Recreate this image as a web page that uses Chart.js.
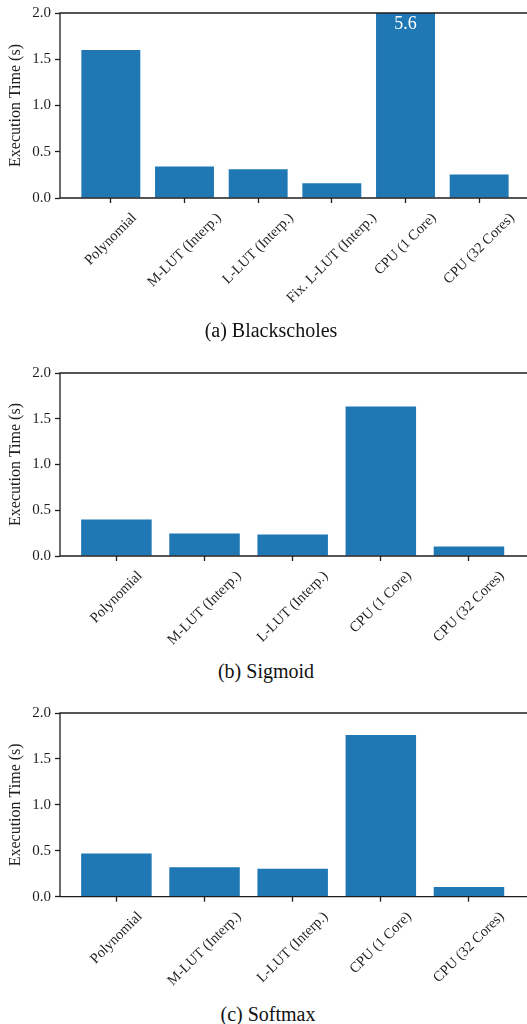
<!DOCTYPE html>
<html>
<head>
<meta charset="utf-8">
<script src="https://cdn.jsdelivr.net/npm/chart.js@4/dist/chart.umd.min.js"></script>
<style>
  html, body { margin: 0; padding: 0; background: #fff; overflow: hidden; width: 527px; height: 1024px; }
  .panel { position: absolute; left: 0; }
  .caption {
    position: absolute;
    font-family: "Liberation Serif", serif;
    font-size: 20px;
    line-height: 20px;
    color: #111;
    white-space: nowrap;
    transform: translateX(-50%);
  }
</style>
</head>
<body>
<canvas id="chartA" class="panel" width="540" height="320" style="top:0px"></canvas>
<div class="caption" style="left:271px; top:320px">(a) Blackscholes</div>

<canvas id="chartB" class="panel" width="540" height="300" style="top:360px"></canvas>
<div class="caption" style="left:266px; top:661px">(b) Sigmoid</div>

<canvas id="chartC" class="panel" width="540" height="300" style="top:700px"></canvas>
<div class="caption" style="left:268px; top:1004px">(c) Softmax</div>

<script>
// Execution time (seconds) per implementation
const blackscholesLabels = ['Polynomial', 'M-LUT (Interp.)', 'L-LUT (Interp.)', 'Fix. L-LUT (Interp.)', 'CPU (1 Core)', 'CPU (32 Cores)'];
const blackscholesTimes  = [1.60, 0.34, 0.31, 0.16, 5.6, 0.255];

const sigmoidLabels = ['Polynomial', 'M-LUT (Interp.)', 'L-LUT (Interp.)', 'CPU (1 Core)', 'CPU (32 Cores)'];
const sigmoidTimes  = [0.40, 0.245, 0.235, 1.635, 0.105];

const softmaxLabels = ['Polynomial', 'M-LUT (Interp.)', 'L-LUT (Interp.)', 'CPU (1 Core)', 'CPU (32 Cores)'];
const softmaxTimes  = [0.47, 0.32, 0.305, 1.76, 0.105];

const yTickValues = [0.0, 0.5, 1.0, 1.5, 2.0];
const yAxisTitle = 'Execution Time (s)';

const INK = '#1e1e1e';
const BAR = '#1f77b4';
const SERIF = '"Liberation Serif", "Times New Roman", serif';
const XLABEL_SIZE = 14.5;

// Spines, rotated category labels and values of bars running past the axis top
const frameAndLabels = {
  id: 'frameAndLabels',
  afterDraw(chart) {
    const { ctx, chartArea: a, scales } = chart;
    const x = scales.x, y = scales.y;
    ctx.save();

    ctx.strokeStyle = INK;
    ctx.lineWidth = 1.3;
    ctx.beginPath();
    ctx.moveTo(a.left, a.bottom); ctx.lineTo(a.left, a.top); ctx.lineTo(a.right, a.top);
    ctx.moveTo(a.left, a.bottom); ctx.lineTo(a.right, a.bottom);
    ctx.stroke();

    const fs = XLABEL_SIZE;
    ctx.font = fs + 'px ' + SERIF;
    ctx.fillStyle = INK;
    ctx.textAlign = 'center';
    ctx.textBaseline = 'middle';
    chart.data.labels.forEach((lab, i) => {
      const px = x.getPixelForValue(i);
      const w = ctx.measureText(lab).width;
      const h = fs * 1.1;
      const cy = a.bottom + 12 + (w + h) * Math.SQRT1_2 / 2;
      ctx.save();
      ctx.translate(px, cy);
      ctx.rotate(-Math.PI / 4);
      ctx.fillText(lab, 0, 0);
      ctx.restore();
    });

    const meta = chart.getDatasetMeta(0);
    const vals = chart.data.datasets[0].data;
    ctx.font = '18px ' + SERIF;
    ctx.fillStyle = '#ffffff';
    meta.data.forEach((bar, i) => {
      const v = vals[i].y;
      if (v > y.max) {
        ctx.fillText(String(v), bar.x, a.top + 11);
      }
    });
    ctx.restore();
  }
};

function makeChart(id, labels, times, xMin, xMax, xAxisHeight, rightPad) {
  return new Chart(document.getElementById(id), {
    type: 'bar',
    data: {
      labels: labels,
      datasets: [{
        data: times.map((v, i) => ({ x: i, y: v })),
        backgroundColor: BAR,
        borderWidth: 0,
        categoryPercentage: 1.0,
        barPercentage: 0.8
      }]
    },
    options: {
      responsive: false,
      animation: false,
      devicePixelRatio: 1,
      layout: { padding: { top: 10, right: rightPad, bottom: 0, left: 0 } },
      plugins: { legend: { display: false }, tooltip: { enabled: false }, title: { display: false } },
      scales: {
        x: {
          type: 'linear',
          min: xMin,
          max: xMax,
          offset: false,
          afterBuildTicks: (s) => { s.ticks = labels.map((_, i) => ({ value: i })); },
          afterFit: (s) => { s.height = xAxisHeight; },
          ticks: { display: false, autoSkip: false },
          grid: { offset: false, drawOnChartArea: false, drawTicks: true, tickLength: 5, color: INK, tickWidth: 1.3 },
          border: { display: false }
        },
        y: {
          min: 0,
          max: 2.0,
          afterBuildTicks: (s) => { s.ticks = yTickValues.map(v => ({ value: v })); },
          afterFit: (s) => { s.width = 60; },
          ticks: {
            callback: (v) => Number(v).toFixed(1),
            font: { family: SERIF, size: 15 },
            color: INK,
            padding: 4
          },
          grid: { drawOnChartArea: false, drawTicks: true, tickLength: 5, color: INK, tickWidth: 1.3 },
          border: { display: false },
          title: {
            display: true,
            text: yAxisTitle,
            font: { family: SERIF, size: 16, lineHeight: 1.2 },
            color: INK,
            padding: { top: 6, bottom: 0 }
          }
        }
      }
    },
    plugins: [frameAndLabels]
  });
}

makeChart('chartA', blackscholesLabels, blackscholesTimes, -0.69, 5.69, 122, 10);
makeChart('chartB', sigmoidLabels, sigmoidTimes, -0.64, 4.67, 104, 12);
makeChart('chartC', softmaxLabels, softmaxTimes, -0.64, 4.67, 103.3, 12);
</script>
</body>
</html>
